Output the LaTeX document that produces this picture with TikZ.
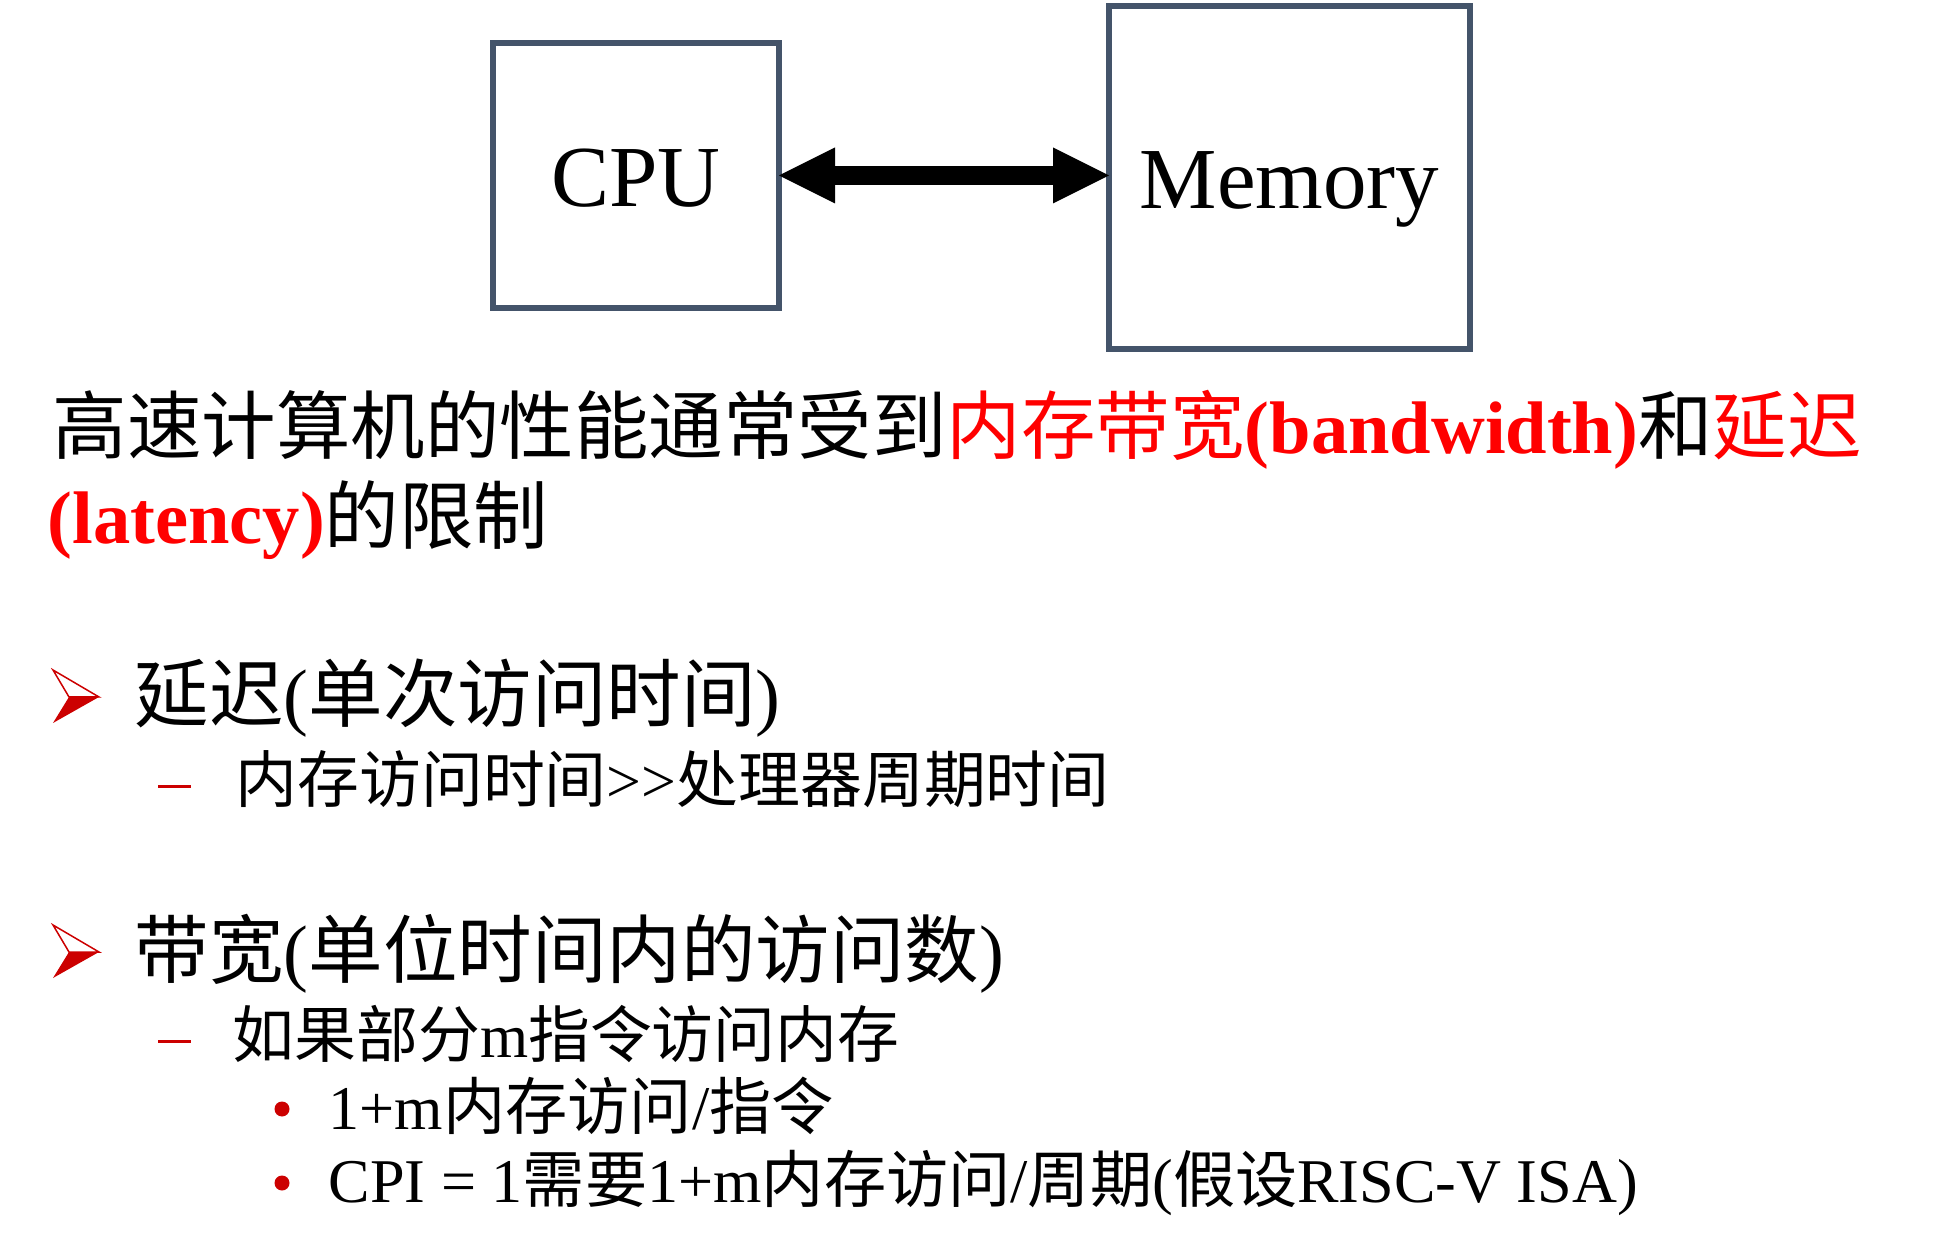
\documentclass[tikz,border=0pt]{standalone}
\usepackage{fontspec}
\setmainfont{Liberation Serif}
\newfontfamily\cjk{Noto Sans CJK SC}
\usetikzlibrary{arrows.meta}
\definecolor{boxgray}{HTML}{44546A}
\definecolor{keyred}{HTML}{FF0000}
\definecolor{markred}{HTML}{CC0000}
\begin{document}
\begin{tikzpicture}[
  unit/.style={draw=boxgray, line width=0.06cm, outer sep=0pt, font=\fontsize{24.75pt}{30pt}\selectfont, text height=18.6pt, text depth=1pt},
  bus/.style={{Triangle[length=0.56cm,width=0.56cm,line width=0pt]}-{Triangle[length=0.56cm,width=0.56cm,line width=0pt]}, line width=0.183cm},
  toplevel/.style={anchor=base west, inner sep=0pt, font=\fontsize{21.2pt}{26pt}\selectfont},
  sublevel/.style={anchor=base west, inner sep=0pt, font=\fontsize{17.6pt}{22pt}\selectfont},
  leaflevel/.style={anchor=base west, inner sep=0pt, font=\fontsize{17.7pt}{22pt}\selectfont}]
\useasboundingbox (0,0) rectangle (19.46,-12.54);
\node[unit, minimum width=2.86cm, minimum height=2.65cm] (cpu) at (6.36,-1.755) {CPU};
\node[unit, minimum width=3.61cm, minimum height=3.43cm] (mem) at (12.895,-1.775) {Memory};
\draw[bus] (cpu.east) -- (cpu.east -| mem.west);
\node[toplevel] (head1) at (0.52,-4.54) {{\cjk 高速计算机的性能通常受到}\textcolor{keyred}{{\cjk 内存带宽}\textbf{(bandwidth)}}{\cjk 和}\textcolor{keyred}{\cjk 延迟}};
\node[toplevel] (head2) at (0.47,-5.44) {\textcolor{keyred}{\textbf{(latency)}}{\cjk 的限制}};
\foreach \y in {6.70,9.25} {
  \draw[markred, line width=0.015cm] (0.53,-\y) -- (0.99,-\y-0.27) -- (0.69,-\y-0.27) -- cycle;
  \fill[markred] (0.69,-\y-0.27) -- (0.99,-\y-0.27) -- (0.53,-\y-0.53) -- cycle;
}
\node[toplevel] (lat) at (1.34,-7.22) {{\cjk 延迟}({\cjk 单次访问时间})};
\draw[markred, line width=0.03cm] (1.58,-7.87) -- (1.91,-7.87);
\node[sublevel] (latsub) at (2.35,-8.03) {{\cjk 内存访问时间}>{}>{\cjk 处理器周期时间}};
\node[toplevel] (bw) at (1.34,-9.77) {{\cjk 带宽}({\cjk 单位时间内的访问数})};
\draw[markred, line width=0.03cm] (1.58,-10.41) -- (1.91,-10.41);
\node[sublevel] (bwsub) at (2.32,-10.57) {{\cjk 如果部分}m{\cjk 指令访问内存}};
\fill[markred] (2.82,-11.09) circle (0.075);
\node[leaflevel] (bwa) at (3.28,-11.29) {1+m{\cjk 内存访问}/{\cjk 指令}};
\fill[markred] (2.82,-11.83) circle (0.075);
\node[leaflevel] (bwb) at (3.28,-12.02) {CPI = 1{\cjk 需要}1+m{\cjk 内存访问}/{\cjk 周期}({\cjk 假设}RISC-V ISA)};
\end{tikzpicture}
\end{document}
